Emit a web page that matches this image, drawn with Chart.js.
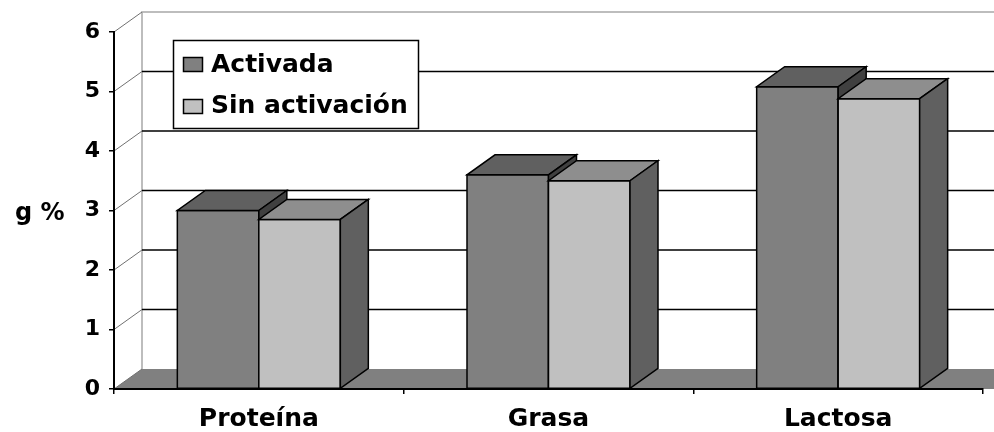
<!DOCTYPE html>
<html>
<head>
<meta charset="utf-8">
<script src="https://cdn.jsdelivr.net/npm/chart.js@4.4.1/dist/chart.umd.min.js"></script>
<style>
  html, body { margin: 0; padding: 0; background: #fff; }
  #wrap { width: 994px; height: 432px; position: relative; }
</style>
</head>
<body>
<div id="wrap"><canvas id="c" width="994" height="432"></canvas></div>
<script>
// ---- data ----
const categories = ['Proteína', 'Grasa', 'Lactosa'];
const seriesNames = ['Activada', 'Sin activación'];
const activada = [3.0, 3.6, 5.08];
const sinActivacion = [2.85, 3.5, 4.88];
const yMin = 0, yMax = 6, yStep = 1;
const yAxisTitle = 'g %';

// ---- styles ----
const FONT = 'DejaVu Sans';
const DX = 28, DY = 20; // 3D depth offset
const palette = [
  { front: '#808080', top: '#606060', side: '#404040' },
  { front: '#c0c0c0', top: '#8e8e8e', side: '#606060' }
];

function poly(ctx, pts, fill, stroke, lw) {
  ctx.beginPath();
  ctx.moveTo(pts[0][0], pts[0][1]);
  for (let i = 1; i < pts.length; i++) ctx.lineTo(pts[i][0], pts[i][1]);
  ctx.closePath();
  if (fill) { ctx.fillStyle = fill; ctx.fill(); }
  if (stroke) { ctx.strokeStyle = stroke; ctx.lineWidth = lw || 1; ctx.lineJoin = 'miter'; ctx.stroke(); }
}

const threeD = {
  id: 'threeD',
  beforeDraw(chart) {
    const ctx = chart.ctx, a = chart.chartArea, ys = chart.scales.y;
    const W = chart.width;
    ctx.save();
    const y0 = ys.getPixelForValue(yMin);
    const yTop = ys.getPixelForValue(yMax);
    // floor
    poly(ctx, [[a.left, y0], [a.left + DX, y0 - DY], [W + 40, y0 - DY], [W + 40, y0]], '#808080');
    // back wall edges
    ctx.strokeStyle = '#a8a8a8';
    ctx.lineWidth = 1.5;
    ctx.beginPath();
    ctx.moveTo(a.left + DX, y0 - DY);
    ctx.lineTo(a.left + DX, yTop - DY);
    ctx.lineTo(W + 10, yTop - DY);
    ctx.stroke();
    // gridlines on back wall
    for (let v = yMin + yStep; v < yMax; v += yStep) {
      const py = ys.getPixelForValue(v) - DY;
      ctx.strokeStyle = '#000';
      ctx.lineWidth = 1.5;
      ctx.beginPath();
      ctx.moveTo(a.left + DX, py);
      ctx.lineTo(W + 10, py);
      ctx.stroke();
    }
    // connectors from front axis to back wall
    for (let v = yMin; v <= yMax; v += yStep) {
      const py = ys.getPixelForValue(v);
      ctx.strokeStyle = '#707070';
      ctx.lineWidth = 1;
      ctx.beginPath();
      ctx.moveTo(a.left, py);
      ctx.lineTo(a.left + DX, py - DY);
      ctx.stroke();
    }
    ctx.restore();
  },
  afterDatasetsDraw(chart) {
    const ctx = chart.ctx;
    ctx.save();
    // paint left series first, then right one, so right bars occlude left side faces
    chart.data.datasets.forEach((ds, idx) => {
      const meta = chart.getDatasetMeta(idx);
      const col = palette[idx];
      meta.data.forEach(el => {
        const p = el.getProps(['x', 'y', 'base', 'width'], true);
        const l = p.x - p.width / 2, r = p.x + p.width / 2;
        const t = p.y, b = p.base;
        // front face
        poly(ctx, [[l, t], [r, t], [r, b], [l, b]], col.front, '#000', 1.5);
        // top face
        poly(ctx, [[l, t], [r, t], [r + DX, t - DY], [l + DX, t - DY]], col.top, '#000', 1.5);
        // side face
        poly(ctx, [[r, t], [r + DX, t - DY], [r + DX, b - DY], [r, b]], col.side, '#000', 1.5);
      });
    });
    ctx.restore();
  },
  afterDraw(chart) {
    const ctx = chart.ctx;
    ctx.save();
    // y axis title
    ctx.fillStyle = '#000';
    ctx.font = 'bold 24px "' + FONT + '"';
    ctx.textAlign = 'left';
    ctx.textBaseline = 'alphabetic';
    ctx.fillText(yAxisTitle, 15, 220);
    // legend
    ctx.fillStyle = '#fff';
    ctx.fillRect(173.5, 40.5, 245, 88);
    ctx.strokeStyle = '#000';
    ctx.lineWidth = 1.5;
    ctx.strokeRect(173.5, 40.5, 245, 88);
    const rows = [{ sy: 57.5, by: 72 }, { sy: 99.5, by: 113 }];
    chart.data.datasets.forEach((ds, i) => {
      ctx.fillStyle = palette[i].front;
      ctx.fillRect(183.5, rows[i].sy, 19, 14);
      ctx.strokeStyle = '#000';
      ctx.lineWidth = 1.5;
      ctx.strokeRect(183.5, rows[i].sy, 19, 14);
      ctx.fillStyle = '#000';
      ctx.font = 'bold 25px "' + FONT + '"';
      ctx.textAlign = 'left';
      ctx.textBaseline = 'alphabetic';
      ctx.fillText(ds.label, 211, rows[i].by);
    });
    ctx.restore();
  }
};

new Chart(document.getElementById('c'), {
  type: 'bar',
  data: {
    labels: categories,
    datasets: [
      { label: seriesNames[0], data: activada, backgroundColor: palette[0].front,
        borderColor: '#000', borderWidth: 1.5 },
      { label: seriesNames[1], data: sinActivacion, backgroundColor: palette[1].front,
        borderColor: '#000', borderWidth: 1.5 }
    ]
  },
  options: {
    responsive: false,
    animation: false,
    devicePixelRatio: 1,
    layout: { padding: { top: 32, right: 11, left: 0, bottom: 0 } },
    datasets: { bar: { barPercentage: 1.0, categoryPercentage: 0.5627 } },
    plugins: { legend: { display: false }, tooltip: { enabled: false }, title: { display: false } },
    scales: {
      x: {
        afterFit: (s) => { s.height = 43; },
        grid: { display: true, drawOnChartArea: false, drawTicks: true, tickLength: 5, color: '#000', lineWidth: 1.5, offset: true },
        border: { display: true, color: '#000', width: 2 },
        ticks: { color: '#000', font: { family: FONT, size: 25, weight: 'bold' }, padding: 10, maxRotation: 0 }
      },
      y: {
        min: yMin, max: yMax,
        afterFit: (s) => { s.width = 114; },
        grid: { display: true, drawOnChartArea: false, drawTicks: true, tickLength: 5, color: '#000', lineWidth: 1.5 },
        border: { display: true, color: '#000', width: 2 },
        ticks: { stepSize: yStep, color: '#000', font: { family: FONT, size: 22, weight: 'bold' }, padding: 9 }
      }
    }
  },
  plugins: [threeD]
});
</script>
</body>
</html>
